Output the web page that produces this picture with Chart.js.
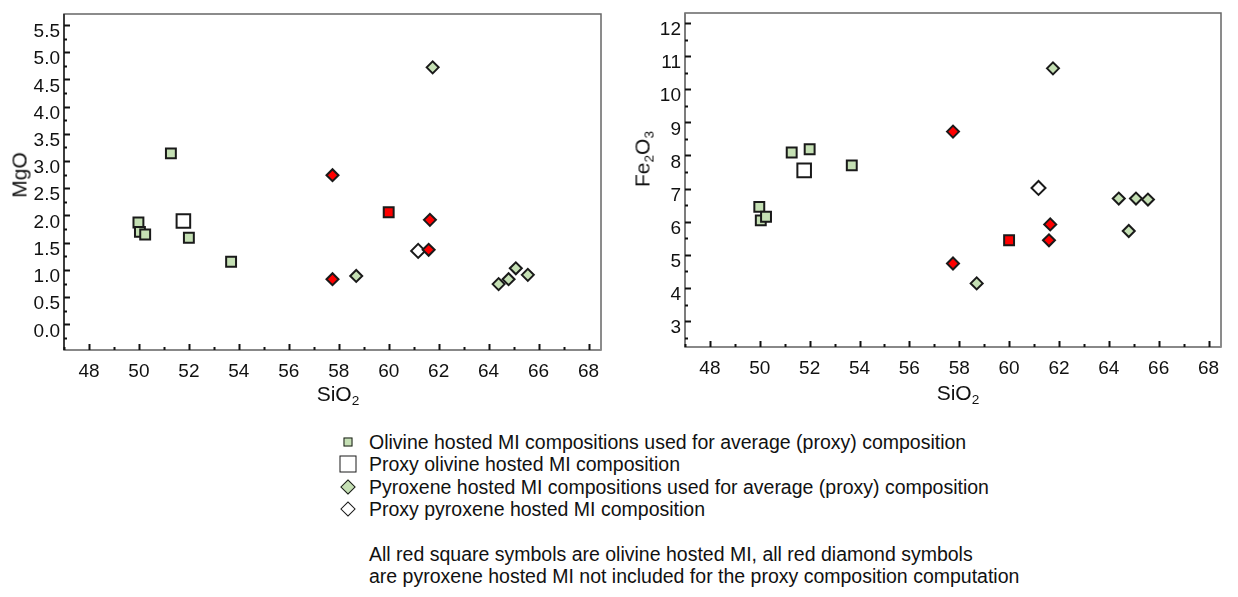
<!DOCTYPE html>
<html>
<head>
<meta charset="utf-8">
<script src="https://cdn.jsdelivr.net/npm/chart.js@4.4.1/dist/chart.umd.min.js"></script>
<style>
  body { margin: 0; background: #fff; font-family: "Liberation Sans", Arial, sans-serif; color: #111; }
  #wrap { position: relative; width: 1238px; height: 597px; overflow: hidden; }
  canvas { position: absolute; top: 0; }
  .title { position: absolute; font-size: 21px; line-height: 1; white-space: nowrap; transform: translate(-50%, -50%); }
  .title.rot { transform: translate(-50%, -50%) rotate(-90deg); }
  .title sub { font-size: 65%; vertical-align: -0.3em; line-height: 0; }
  #legend { position: absolute; left: 337px; top: 431px; font-size: 19.5px; line-height: 22.3px; }
  #legend .row { position: relative; padding-left: 32px; white-space: nowrap; }
  #legend .mk { position: absolute; left: 11px; top: 50%; transform: translate(-50%, -50%); box-sizing: border-box; border: 1.6px solid #1a1a1a; }
  #legend .mk.dia { transform: translate(-50%, -50%) rotate(45deg); }
  #note { position: absolute; left: 369px; top: 543px; font-size: 19.5px; line-height: 22px; white-space: nowrap; }
</style>
</head>
<body>
<div id="wrap">
  <canvas id="mgo-chart" width="615" height="420" style="left:0"></canvas>
  <canvas id="fe-chart" width="615" height="420" style="left:620px"></canvas>

  <div class="title rot" style="left:19px;top:175px">MgO</div>
  <div class="title rot" style="left:642px;top:159px">Fe<sub>2</sub>O<sub>3</sub></div>
  <div class="title" style="left:338px;top:393px">SiO<sub>2</sub></div>
  <div class="title" style="left:958px;top:392px">SiO<sub>2</sub></div>

  <div id="legend">
    <div class="row"><span class="mk" style="width:9px;height:9px;background:#c5e0b4"></span>Olivine hosted MI compositions used for average (proxy) composition</div>
    <div class="row"><span class="mk" style="width:17px;height:17px;background:#fff"></span>Proxy olivine hosted MI composition</div>
    <div class="row"><span class="mk dia" style="width:11px;height:11px;background:#c5e0b4"></span>Pyroxene hosted MI compositions used for average (proxy) composition</div>
    <div class="row"><span class="mk dia" style="width:11px;height:11px;background:#fff"></span>Proxy pyroxene hosted MI composition</div>
  </div>
  <div id="note">All red square symbols are olivine hosted MI, all red diamond symbols<br>are pyroxene hosted MI not included for the proxy composition computation</div>
</div>

<script>

// olivine hosted MI used for the proxy (green squares)
const olivineSiO2  = [49.98, 50.04, 50.25, 51.28, 52.00, 53.69]
const olivineMgO   = [1.87, 1.70, 1.65, 3.14, 1.59, 1.15]
const olivineFe2O3 = [6.45, 6.04, 6.15, 8.09, 8.19, 7.70]

// proxy olivine composition (big open square)
const proxyOlSiO2  = [51.78]
const proxyOlMgO   = [1.90]
const proxyOlFe2O3 = [7.55]

// pyroxene hosted MI used for the proxy (green diamonds)
const pyroxeneSiO2  = [61.76, 58.70, 64.40, 64.80, 65.09, 65.57]
const pyroxeneMgO   = [4.72, 0.89, 0.74, 0.83, 1.03, 0.91]
const pyroxeneFe2O3 = [10.63, 4.14, 6.70, 5.72, 6.70, 6.67]

// proxy pyroxene composition (open diamond)
const proxyPxSiO2  = [61.18]
const proxyPxMgO   = [1.35]
const proxyPxFe2O3 = [7.02]

// red squares: olivine hosted MI not used
const redOlSiO2  = [60.00]
const redOlMgO   = [2.06]
const redOlFe2O3 = [5.44]

// red diamonds: pyroxene hosted MI not used
const redPxSiO2  = [57.75, 57.75, 61.65, 61.60]
const redPxMgO   = [2.74, 0.83, 1.92, 1.37]
const redPxFe2O3 = [8.72, 4.74, 5.92, 5.44]

// axis ticks
const sio2Ticks  = [48, 50, 52, 54, 56, 58, 60, 62, 64, 66, 68]
const mgoTicks   = [0.0, 0.5, 1.0, 1.5, 2.0, 2.5, 3.0, 3.5, 4.0, 4.5, 5.0, 5.5]
const fe2o3Ticks = [3, 4, 5, 6, 7, 8, 9, 10, 11, 12]

const GREEN = '#c5e0b4'
const EDGE = '#1a1a1a'
const FONT = 'Liberation Sans, Arial, sans-serif'

function toPoints(xs, ys) {
    return xs.map((x, i) => ({ x: x, y: ys[i] }))
}

// frame + inward tick marks like the original plot
const frameTicks = {
    id: 'frameTicks',
    beforeDatasetsDraw(chart, args, opts) {
        const ctx = chart.ctx
        const a = chart.chartArea
        const xs = chart.scales.x
        const ys = chart.scales.y
        ctx.save()

        ctx.strokeStyle = '#666'
        ctx.lineWidth = 1.5
        ctx.strokeRect(a.left, a.top, a.right - a.left, a.bottom - a.top)
        ctx.strokeStyle = '#888'
        ctx.lineWidth = 2
        ctx.beginPath(); ctx.moveTo(a.left, a.bottom); ctx.lineTo(a.right, a.bottom); ctx.stroke()
        ctx.strokeStyle = opts.leftColor
        ctx.lineWidth = 1.5
        ctx.beginPath(); ctx.moveTo(a.left, a.top); ctx.lineTo(a.left, a.bottom); ctx.stroke()

        ctx.strokeStyle = '#111'
        ctx.lineWidth = 2
        for (let v = Math.ceil(xs.min); v <= xs.max; v++) {
            const px = Math.round(xs.getPixelForValue(v)) + 0.5
            const len = v % 2 === 0 ? 6 : 3
            ctx.beginPath(); ctx.moveTo(px, a.bottom); ctx.lineTo(px, a.bottom - len); ctx.stroke()
        }
        const step = opts.yMinor
        for (let i = Math.ceil(ys.min / step); i * step <= ys.max; i++) {
            const v = i * step
            const py = Math.round(ys.getPixelForValue(v)) + 0.5
            const major = ys.ticks.some(t => Math.abs(t.value - v) < 1e-6)
            ctx.beginPath(); ctx.moveTo(a.left, py); ctx.lineTo(a.left + (major ? 6 : 3), py); ctx.stroke()
        }
        ctx.restore()
    }
}

function makeChart(canvas, ySeries, yTicks, yMin, yMax, yMinor, decimals, area, leftColor) {
    const [olY, proxyOlY, pxY, proxyPxY, redOlY, redPxY] = ySeries
    const base = { showLine: false, borderColor: EDGE, borderWidth: 2 }

    return new Chart(canvas, {
        type: 'scatter',
        data: {
            datasets: [
                { ...base, label: 'red pyroxene', data: toPoints(redPxSiO2, redPxY), pointStyle: 'rectRot', pointRadius: 6, backgroundColor: '#ff0000' },
                { ...base, label: 'red olivine', data: toPoints(redOlSiO2, redOlY), pointStyle: 'rect', pointRadius: 7, backgroundColor: '#ff0000' },
                { ...base, label: 'proxy pyroxene', data: toPoints(proxyPxSiO2, proxyPxY), pointStyle: 'rectRot', pointRadius: 7, backgroundColor: '#ffffff' },
                { ...base, label: 'proxy olivine', data: toPoints(proxyOlSiO2, proxyOlY), pointStyle: 'rect', pointRadius: 9.6, backgroundColor: '#ffffff' },
                { ...base, label: 'pyroxene', data: toPoints(pyroxeneSiO2, pxY), pointStyle: 'rectRot', pointRadius: 6, backgroundColor: GREEN },
                { ...base, label: 'olivine', data: toPoints(olivineSiO2, olY), pointStyle: 'rect', pointRadius: 7, backgroundColor: GREEN }
            ]
        },
        options: {
            responsive: false,
            animation: false,
            events: [],
            layout: { padding: { top: area.top, right: 615 - area.right, left: 0, bottom: 0 } },
            plugins: {
                legend: { display: false },
                tooltip: { enabled: false },
                frameTicks: { yMinor: yMinor, leftColor: leftColor }
            },
            scales: {
                x: {
                    type: 'linear',
                    min: 47,
                    max: 68.5,
                    grid: { display: false, drawTicks: false },
                    border: { display: false },
                    afterBuildTicks: s => { s.ticks = sio2Ticks.map(v => ({ value: v })) },
                    afterFit: s => { s.height = 420 - area.bottom; s.paddingLeft = 0; s.paddingRight = 0 },
                    ticks: { padding: 10, color: '#111', font: { family: FONT, size: 19 }, maxRotation: 0, autoSkip: false }
                },
                y: {
                    type: 'linear',
                    min: yMin,
                    max: yMax,
                    grid: { display: false, drawTicks: false },
                    border: { display: false },
                    afterBuildTicks: s => { s.ticks = yTicks.map(v => ({ value: v })) },
                    afterFit: s => { s.width = area.left; s.paddingTop = 0; s.paddingBottom = 0 },
                    ticks: {
                        padding: 4,
                        labelOffset: 7,
                        color: '#111',
                        font: { family: FONT, size: 19 },
                        autoSkip: false,
                        callback: v => v.toFixed(decimals)
                    }
                }
            }
        },
        plugins: [frameTicks]
    })
}

document.addEventListener("DOMContentLoaded", function () {

    makeChart(
        document.getElementById("mgo-chart"),
        [olivineMgO, proxyOlMgO, pyroxeneMgO, proxyPxMgO, redOlMgO, redPxMgO],
        mgoTicks, -0.47, 5.7, 0.25, 1,
        { left: 64, right: 601, top: 14, bottom: 350 },
        '#222'
    )

    makeChart(
        document.getElementById("fe-chart"),
        [olivineFe2O3, proxyOlFe2O3, pyroxeneFe2O3, proxyPxFe2O3, redOlFe2O3, redPxFe2O3],
        fe2o3Ticks, 2.22, 12.3, 0.5, 0,
        { left: 65, right: 601, top: 13, bottom: 347 },
        '#777'
    )

});
</script>
</body>
</html>
